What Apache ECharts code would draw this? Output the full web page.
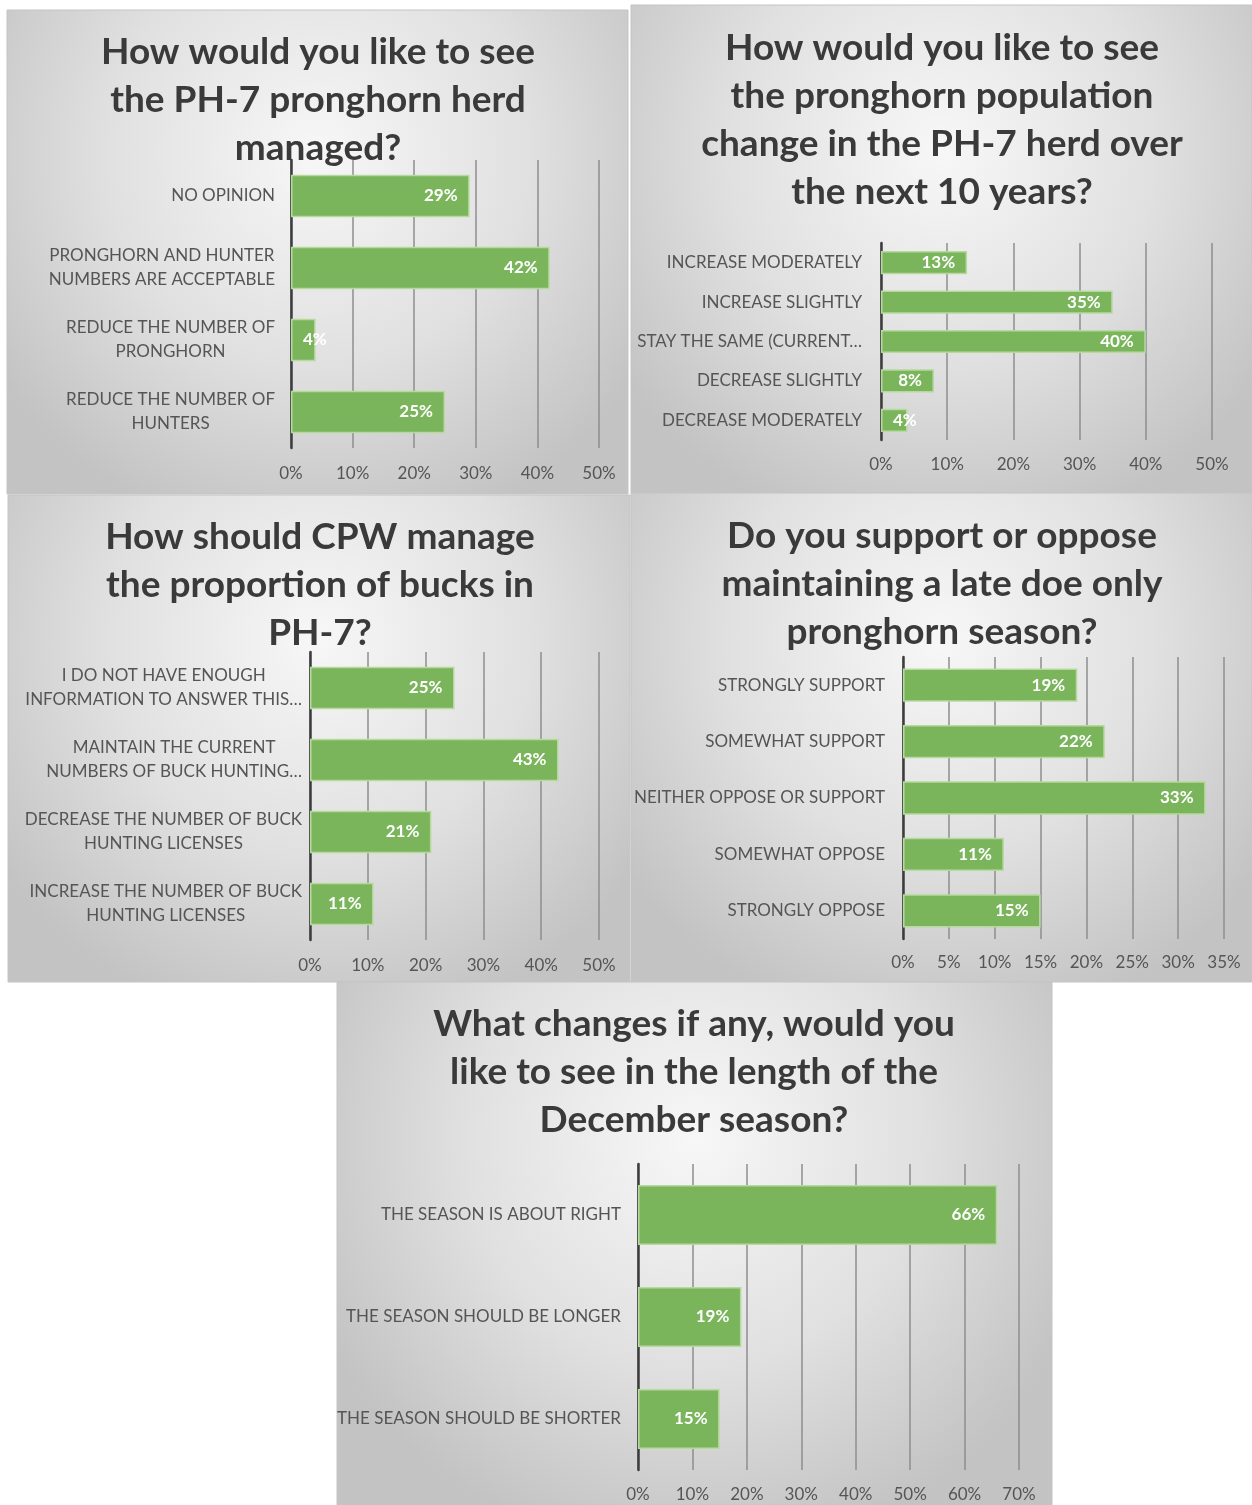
<!DOCTYPE html>
<html>
<head>
<meta charset="utf-8">
<script src="https://cdn.jsdelivr.net/npm/echarts@6/dist/echarts.min.js"></script>
<style>
  html, body { margin: 0; padding: 0; background: #ffffff; }
  #chart { width: 1252px; height: 1505px; }
</style>
</head>
<body>
<div id="chart"></div>
<script>
// Survey results for the PH-7 pronghorn herd (percent of respondents)

const herdTitle = 'How would you like to see\nthe PH-7 pronghorn herd\nmanaged?';
const herdCategories = ['NO OPINION', 'PRONGHORN AND HUNTER\nNUMBERS ARE ACCEPTABLE', 'REDUCE THE NUMBER OF\nPRONGHORN', 'REDUCE THE NUMBER OF\nHUNTERS'];
const herdValues = [29, 42, 4, 25];

const populationTitle = 'How would you like to see\nthe pronghorn population\nchange in the PH-7 herd over\nthe next 10 years?';
const populationCategories = ['INCREASE MODERATELY', 'INCREASE SLIGHTLY', 'STAY THE SAME (CURRENT…', 'DECREASE SLIGHTLY', 'DECREASE MODERATELY'];
const populationValues = [13, 35, 40, 8, 4];

const bucksTitle = 'How should CPW manage\nthe proportion of bucks in\nPH-7?';
const bucksCategories = ['I DO NOT HAVE ENOUGH\nINFORMATION TO ANSWER THIS…', 'MAINTAIN THE CURRENT\nNUMBERS OF BUCK HUNTING…', 'DECREASE THE NUMBER OF BUCK\nHUNTING LICENSES', 'INCREASE THE NUMBER OF BUCK\nHUNTING LICENSES'];
const bucksValues = [25, 43, 21, 11];

const doeTitle = 'Do you support or oppose\nmaintaining a late doe only\npronghorn season?';
const doeCategories = ['STRONGLY SUPPORT', 'SOMEWHAT SUPPORT', 'NEITHER OPPOSE OR SUPPORT', 'SOMEWHAT OPPOSE', 'STRONGLY OPPOSE'];
const doeValues = [19, 22, 33, 11, 15];

const seasonTitle = 'What changes if any, would you\nlike to see in the length of the\nDecember season?';
const seasonCategories = ['THE SEASON IS ABOUT RIGHT', 'THE SEASON SHOULD BE LONGER', 'THE SEASON SHOULD BE SHORTER'];
const seasonValues = [66, 19, 15];

// Percent axis ranges: [max, step]
const herdAxis = [50, 10];
const populationAxis = [50, 10];
const bucksAxis = [50, 10];
const doeAxis = [35, 5];
const seasonAxis = [70, 10];

// ---- layout of the five cards ----
const FONT = 'Lato, "Open Sans", sans-serif';
const panels = [
  { title: herdTitle, cats: herdCategories, vals: herdValues, axis: herdAxis,
    card: [7, 10, 621, 484], grid: [291, 160, 308, 288], titleAt: [318, 28], labelMargin: 16, tickMargin: 17 },
  { title: populationTitle, cats: populationCategories, vals: populationValues, axis: populationAxis,
    card: [631, 5, 621, 488], grid: [881, 243, 331, 197], titleAt: [942, 24], labelMargin: 19, tickMargin: 16 },
  { title: bucksTitle, cats: bucksCategories, vals: bucksValues, axis: bucksAxis,
    card: [8, 495, 622, 487], grid: [310, 652, 289, 288], titleAt: [320, 513], labelMargin: 8, tickMargin: 17 },
  { title: doeTitle, cats: doeCategories, vals: doeValues, axis: doeAxis,
    card: [631, 493, 621, 489], grid: [903, 657, 321, 282], titleAt: [942, 512], labelMargin: 18, tickMargin: 15 },
  { title: seasonTitle, cats: seasonCategories, vals: seasonValues, axis: seasonAxis,
    card: [337, 982, 715, 523], grid: [638, 1164, 381, 306], titleAt: [694, 1000], labelMargin: 17, tickMargin: 16 }
];

const BAR = '#7ab55c';
const BAR_EDGE = '#b7d99f';
const TEXT = '#555555';

const graphics = [];
panels.forEach(p => {
  graphics.push({
    type: 'rect', z: -10, silent: true,
    shape: { x: p.card[0], y: p.card[1], width: p.card[2], height: p.card[3] },
    style: {
      fill: {
        type: 'radial', x: 0.5, y: 0.3, r: 0.8,
        colorStops: [
          { offset: 0, color: '#f7f7f7' },
          { offset: 0.55, color: '#e0e0e0' },
          { offset: 1, color: '#c3c3c3' }
        ]
      },
      stroke: '#c4c4c4', lineWidth: 1
    }
  });
  graphics.push({
    type: 'text', z: 1, silent: true,
    x: p.titleAt[0], y: p.titleAt[1],
    style: {
      text: p.title, align: 'center', verticalAlign: 'top',
      font: 'bold 37px ' + FONT, lineHeight: 48, fill: '#3a3a3a'
    }
  });
});

const option = {
  animation: false,
  backgroundColor: '#ffffff',
  graphic: graphics,
  grid: panels.map(p => ({ left: p.grid[0], top: p.grid[1], width: p.grid[2], height: p.grid[3] })),
  xAxis: panels.map((p, i) => ({
    type: 'value', gridIndex: i, min: 0, max: p.axis[0], interval: p.axis[1],
    axisLine: { show: false }, axisTick: { show: false },
    splitLine: { show: true, lineStyle: { color: '#8e8e8e', width: 1.5 } },
    axisLabel: { formatter: '{value}%', color: TEXT, fontSize: 17, fontFamily: FONT, margin: p.tickMargin }
  })),
  yAxis: panels.map((p, i) => ({
    type: 'category', gridIndex: i, inverse: true, data: p.cats,
    axisLine: { show: true, lineStyle: { color: '#3c3c3c', width: 2.5 } },
    axisTick: { show: false },
    axisLabel: {
      margin: p.labelMargin, color: TEXT, fontSize: 17, fontFamily: FONT, interval: 0,
      formatter: v => v.split('\n').map(line => '{c|' + line + '}').join('\n'),
      rich: { c: { align: 'center', color: TEXT, fontSize: 17, fontFamily: FONT, lineHeight: 24 } }
    }
  })),
  series: panels.map((p, i) => ({
    type: 'bar', xAxisIndex: i, yAxisIndex: i,
    barCategoryGap: '41%',
    itemStyle: { color: BAR, borderColor: BAR_EDGE, borderWidth: 1.5 },
    label: {
      show: true, position: 'insideRight', distance: 12, formatter: '{c}%',
      color: '#ffffff', fontWeight: 'bold', fontSize: 17, fontFamily: FONT
    },
    // bars too short for their label get it started just inside the bar
    data: p.vals.map(v => v < 6
      ? { value: v, label: { position: [12, '50%'], align: 'left', verticalAlign: 'middle' } }
      : v)
  }))
};

const chart = echarts.init(document.getElementById('chart'), null, { renderer: 'canvas' });
chart.setOption(option);
</script>
</body>
</html>
